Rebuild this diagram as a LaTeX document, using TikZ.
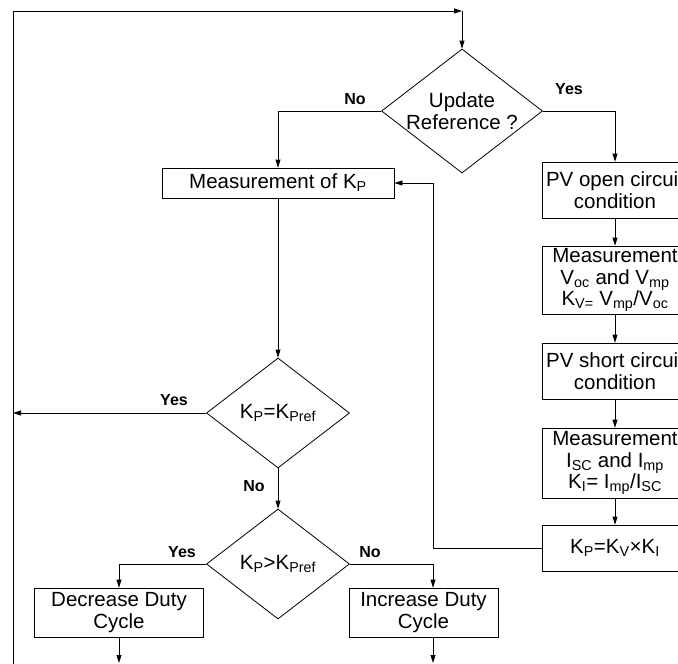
\documentclass[tikz,border=0pt]{standalone}
\usepackage{fontspec}
\setmainfont{Liberation Sans}
\usetikzlibrary{shapes.geometric,arrows.meta}
\begin{document}
\tikzset{
  box/.style={draw, line width=0.8pt, inner sep=0pt, align=center, font=\fontsize{20.5}{21.5}\selectfont},
  txt/.style={align=center, inner sep=0pt, font=\fontsize{20.5}{21.5}\selectfont},
  dia/.style={draw, diamond, line width=0.8pt, inner sep=0pt},
  lbl/.style={inner sep=0pt, font=\fontsize{16}{17}\selectfont\bfseries},
  ln/.style={line width=0.8pt},
  arr/.style={line width=0.8pt, -{Triangle[length=8pt,width=5pt]}},
}
\begin{tikzpicture}[x=1pt,y=-1pt]
\useasboundingbox (0,0) rectangle (678,664);
\clip (0,0) rectangle (678,664);
\coordinate (tl) at (13,11);
\coordinate (tr) at (462,11);
\coordinate (bl) at (13,664);
\coordinate (fbx) at (433,0);
\coordinate (decout) at (119,663);
\coordinate (incout) at (433,663);

\node[dia, minimum width=161pt, minimum height=124pt,
      label={[txt]center:Update\\Reference ?}] (u) at (462,111) {};
\node[box, minimum width=232pt, minimum height=30pt] (mkp) at (278,183) {Measurement of K\textsubscript{P}};
\node[box, minimum width=146pt, minimum height=56pt] (pv1) at (615,190) {PV open circuit\\condition};
\node[box, minimum width=146pt, minimum height=68pt] (m1) at (615,280) {Measurement\\V\textsubscript{oc} and V\textsubscript{mp}\\K\textsubscript{V=} V\textsubscript{mp}/V\textsubscript{oc}};
\node[box, minimum width=146pt, minimum height=56pt] (pv2) at (615,371) {PV short circuit\\condition};
\node[box, minimum width=146pt, minimum height=70pt] (m2) at (615,463) {Measurement\\I\textsubscript{SC} and I\textsubscript{mp}\\K\textsubscript{I}= I\textsubscript{mp}/I\textsubscript{SC}};
\node[box, minimum width=146pt, minimum height=46pt] (kp) at (615,548) {K\textsubscript{P}=K\textsubscript{V}×K\textsubscript{I}};
\node[dia, minimum width=143pt, minimum height=110pt,
      label={[txt]center:K\textsubscript{P}=K\textsubscript{Pref}}] (d1) at (278,413) {};
\node[dia, minimum width=143pt, minimum height=110pt,
      label={[txt]center:K\textsubscript{P}>K\textsubscript{Pref}}] (d2) at (278,564) {};
\node[box, minimum width=169pt, minimum height=49pt] (dec) at (119,612.5) {Decrease Duty\\Cycle};
\node[box, minimum width=149pt, minimum height=49pt] (inc) at (423.5,612.5) {Increase Duty\\Cycle};

\draw[ln] (bl) -- (tl);
\draw[arr] (tl) -- (tr);
\draw[arr] (tr) -- (u.north);
\draw[arr] (u.west) -| (mkp.north);
\draw[arr] (u.east) -| (pv1.north);
\draw[arr] (pv1.south) -- (m1.north);
\draw[arr] (m1.south) -- (pv2.north);
\draw[arr] (pv2.south) -- (m2.north);
\draw[arr] (m2.south) -- (kp.north);
\draw[arr] (kp.west) -- (kp.west -| fbx) |- (mkp.east);
\draw[arr] (mkp.south) -- (d1.north);
\draw[arr] (d1.west) -- (d1.west -| tl);
\draw[arr] (d1.south) -- (d2.north);
\draw[arr] (d2.west) -| (dec.north);
\draw[arr] (d2.east) -| (inc.north -| fbx);
\draw[arr] (dec.south) -- (decout);
\draw[arr] (inc.south -| fbx) -- (incout);

\node[lbl] (l1) at (355,99) {No};
\node[lbl] (l2) at (569,89) {Yes};
\node[lbl] (l3) at (174,400) {Yes};
\node[lbl] (l4) at (254,486) {No};
\node[lbl] (l5) at (182,552) {Yes};
\node[lbl] (l6) at (370,552) {No};
\end{tikzpicture}
\end{document}
